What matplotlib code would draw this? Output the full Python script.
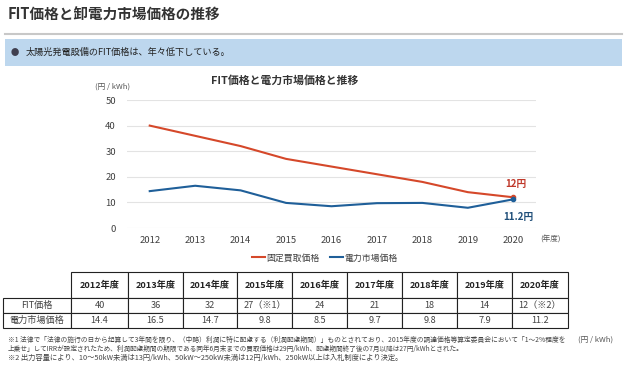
import matplotlib
matplotlib.use("Agg")
import matplotlib.pyplot as plt
from matplotlib.patches import Rectangle
from matplotlib.lines import Line2D

plt.rcParams['font.family'] = ['Noto Sans CJK JP', 'DejaVu Sans']

years = [2012, 2013, 2014, 2015, 2016, 2017, 2018, 2019, 2020]
fit_price = [40, 36, 32, 27, 24, 21, 18, 14, 12]
market_price = [14.4, 16.5, 14.7, 9.8, 8.5, 9.7, 9.8, 7.9, 11.2]
fit_labels = ['40', '36', '32', '27（※1）', '24', '21', '18', '14', '12（※2）']
y_ticks = [0, 10, 20, 30, 40, 50]

RED = '#d5482a'
BLUE = '#1f5f99'
W, H = 630, 371


def fx(px):
    return px / W


def fy(py):
    return 1 - py / H


fig = plt.figure(figsize=(6.3, 3.71), dpi=100)

# page header
fig.text(fx(8), fy(15), 'FIT価格と卸電力市場価格の推移', fontsize=10.5,
         fontweight='bold', color='#333333', va='center', ha='left')
fig.add_artist(Line2D([fx(5), fx(622)], [fy(34), fy(34)], color='#c8c8c8', lw=1.5))
fig.add_artist(Rectangle((fx(5), fy(66)), fx(617), 27 / H, facecolor='#bdd7ee',
                         edgecolor='none', transform=fig.transFigure))
fig.text(fx(11), fy(52), '●', fontsize=6, color='#404050', va='center')
fig.text(fx(26), fy(52), '太陽光発電設備のFIT価格は、年々低下している。', fontsize=6.6,
         color='#222222', va='center')

# line chart
ax = fig.add_axes([fx(127), fy(228), 409 / W, 128 / H])
ax.plot(years, fit_price, color=RED, lw=1.5, label='固定買取価格')
ax.plot(years, market_price, color=BLUE, lw=1.5, label='電力市場価格')
ax.plot(years[-1], fit_price[-1], 'o', color=RED, ms=3)
ax.plot(years[-1], market_price[-1], 'o', color=BLUE, ms=3)
ax.set_xlim(2011.5, 2020.5)
ax.set_ylim(0, 50)
ax.set_xticks(years)
ax.set_yticks(y_ticks)
ax.grid(axis='y', color='#e3e3e3', lw=0.8)
ax.set_axisbelow(True)
for s in ax.spines.values():
    s.set_visible(False)
ax.tick_params(length=0, labelsize=6.8, labelcolor='#404040')
ax.tick_params(axis='x', pad=6)
ax.tick_params(axis='y', pad=8)

ax.annotate(f'{fit_price[-1]}円', (years[-1], fit_price[-1]), xytext=(2, 6),
            textcoords='offset points', color='#c0392b', fontsize=7,
            fontweight='bold', ha='center', va='bottom')
ax.annotate(f'{market_price[-1]}円', (years[-1], market_price[-1]), xytext=(4, -9),
            textcoords='offset points', color='#1f4e79', fontsize=7,
            fontweight='bold', ha='center', va='top')

fig.text(fx(285), fy(80), 'FIT価格と電力市場価格と推移', fontsize=7.8,
         fontweight='bold', color='#333333', ha='center', va='center')
fig.text(fx(113), fy(87), '(円 / kWh)', fontsize=5.5, color='#555555',
         ha='center', va='center')
fig.text(fx(540), fy(240), '(年度)', fontsize=5.5, color='#555555',
         ha='left', va='center')
fig.legend(loc='center', bbox_to_anchor=(fx(325), fy(258)), ncol=2, frameon=False,
           fontsize=6.4, handlelength=1.4, handletextpad=0.2, columnspacing=1.2,
           labelcolor='#404040')

# table
tax = fig.add_axes([fx(3), fy(328), 565 / W, 56 / H])
tax.axis('off')
header = [''] + [f'{y}年度' for y in years]
rows = [['FIT価格'] + fit_labels,
        ['電力市場価格'] + [f'{v}' for v in market_price]]
col_w = [68, 57, 55, 54, 55, 55, 55, 55, 55, 56]
tbl = tax.table(cellText=rows, colLabels=header, colWidths=col_w,
                cellLoc='center', bbox=[0, 0, 1, 1])
tbl.auto_set_font_size(False)
for (r, c), cell in tbl.get_celld().items():
    cell.set_height(26 if r == 0 else 15)
    cell.set_linewidth(0.8)
    cell.set_edgecolor('#222222')
    cell.get_text().set_fontsize(6.6)
    if r == 0:
        cell.get_text().set_fontweight('bold')
        cell.get_text().set_color('#222222')
    else:
        cell.get_text().set_color('#444444')
tbl[(0, 0)].visible_edges = 'open'

fig.text(fx(596), fy(340), '(円 / kWh)', fontsize=5.5, color='#555555',
         ha='center', va='center')

notes = [
    '※1 法律で「法律の施行の日から起算して3年間を限り、（中略）利潤に特に配慮する（利潤配慮期間）」ものとされており、2015年度の調達価格等算定委員会において「1～2%程度を',
    '上乗せ」してIRRが設定されたため、利潤配慮期間の期限である同年6月末までの買取価格は29円/kWh、配慮期間終了後の7月以降は27円/kWhとされた。',
    '※2 出力容量により、10～50kW未満は13円/kWh、50kW～250kW未満は12円/kWh、250kW以上は入札制度により決定。',
]
note_sizes = [4.85, 4.8, 5.25]
for i, line in enumerate(notes):
    fig.text(fx(8), fy(340 + 9 * i), line, fontsize=note_sizes[i], color='#444444',
             ha='left', va='center')

fig.savefig('out.png', dpi=100)
